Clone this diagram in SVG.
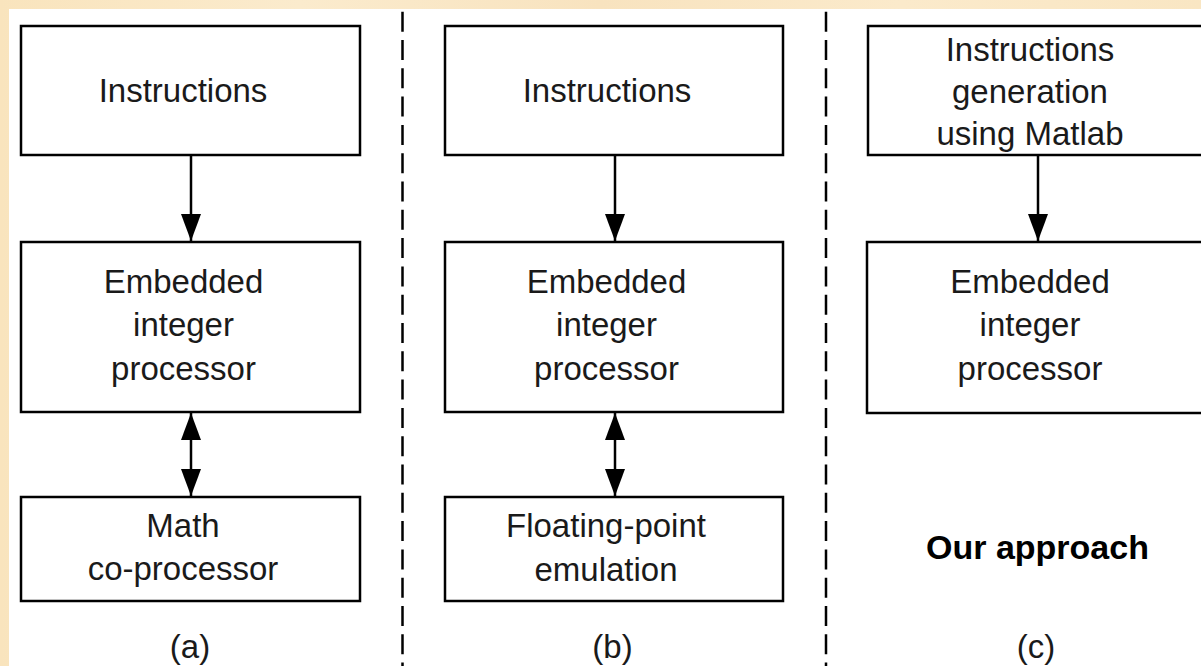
<svg xmlns="http://www.w3.org/2000/svg" width="1201" height="666" viewBox="0 0 1201 666">
<defs>
<linearGradient id="bg" x1="0" y1="0" x2="1" y2="0">
<stop offset="0" stop-color="#f9e4bd"/>
<stop offset="0.25" stop-color="#fbebcd"/>
<stop offset="0.5" stop-color="#f8e3bf"/>
<stop offset="0.75" stop-color="#fbeacb"/>
<stop offset="1" stop-color="#f9e6c3"/>
</linearGradient>
<marker id="ah" viewBox="0 0 27 20" refX="27" refY="10" markerWidth="27" markerHeight="20" markerUnits="userSpaceOnUse" orient="auto-start-reverse">
<path d="M0,0 L27,10 L0,20 Z" fill="#000"/>
</marker>
<style>
.box{fill:#fff;stroke:#000;stroke-width:2.5}
.t{font-family:"Liberation Sans",Arial,sans-serif;font-size:33px;fill:#1a1a1a;text-anchor:middle}
.b{font-family:"Liberation Sans",Arial,sans-serif;font-size:34px;font-weight:bold;fill:#000;text-anchor:middle}
.sep{stroke:#000;stroke-width:2.5;stroke-dasharray:20 8.3;fill:none}
.con{stroke:#000;stroke-width:2.5;fill:none}
</style>
</defs>
<rect x="0" y="0" width="1201" height="666" fill="url(#bg)"/>
<rect x="9" y="9" width="1192" height="657" fill="#fff"/>

<g id="separators">
<line class="sep" x1="402.5" y1="11.7" x2="402.5" y2="666"/>
<line class="sep" x1="826" y1="11.7" x2="826" y2="666"/>
</g>

<g id="a-instructions">
<rect class="box" x="21" y="26" width="339" height="129"/>
<text class="t" x="183" y="102">Instructions</text>
</g>
<g id="a-processor">
<rect class="box" x="21" y="242" width="339" height="170"/>
<text class="t" x="183.5" y="293">Embedded</text>
<text class="t" x="183.5" y="336">integer</text>
<text class="t" x="183.5" y="380">processor</text>
</g>
<g id="a-coprocessor">
<rect class="box" x="21" y="497" width="339" height="104"/>
<text class="t" x="183" y="537">Math</text>
<text class="t" x="183" y="580">co-processor</text>
</g>
<g id="a-label"><text class="t" x="190" y="658">(a)</text></g>

<g id="b-instructions">
<rect class="box" x="445" y="26" width="338" height="129"/>
<text class="t" x="607" y="102">Instructions</text>
</g>
<g id="b-processor">
<rect class="box" x="445" y="242" width="338" height="170"/>
<text class="t" x="606.5" y="293">Embedded</text>
<text class="t" x="606.5" y="336">integer</text>
<text class="t" x="606.5" y="380">processor</text>
</g>
<g id="b-emulation">
<rect class="box" x="445" y="497" width="338" height="104"/>
<text class="t" x="606" y="537">Floating-point</text>
<text class="t" x="606" y="581">emulation</text>
</g>
<g id="b-label"><text class="t" x="612.5" y="658">(b)</text></g>

<g id="c-generation">
<rect class="box" x="868" y="26" width="345" height="129"/>
<text class="t" x="1030" y="61">Instructions</text>
<text class="t" x="1030" y="103">generation</text>
<text class="t" x="1030" y="145">using Matlab</text>
</g>
<g id="c-processor">
<rect class="box" x="867" y="242" width="346" height="171"/>
<text class="t" x="1030" y="293">Embedded</text>
<text class="t" x="1030" y="336">integer</text>
<text class="t" x="1030" y="380">processor</text>
</g>
<g id="c-approach"><text class="b" x="1037.5" y="559">Our approach</text></g>
<g id="c-label"><text class="t" x="1036" y="658">(c)</text></g>

<g id="connectors">
<line class="con" x1="191" y1="155" x2="191" y2="241" marker-end="url(#ah)"/>
<line class="con" x1="615" y1="155" x2="615" y2="241" marker-end="url(#ah)"/>
<line class="con" x1="1038" y1="155" x2="1038" y2="241" marker-end="url(#ah)"/>
<line class="con" x1="191" y1="413" x2="191" y2="496" marker-start="url(#ah)" marker-end="url(#ah)"/>
<line class="con" x1="615" y1="413" x2="615" y2="496" marker-start="url(#ah)" marker-end="url(#ah)"/>
</g>
</svg>
